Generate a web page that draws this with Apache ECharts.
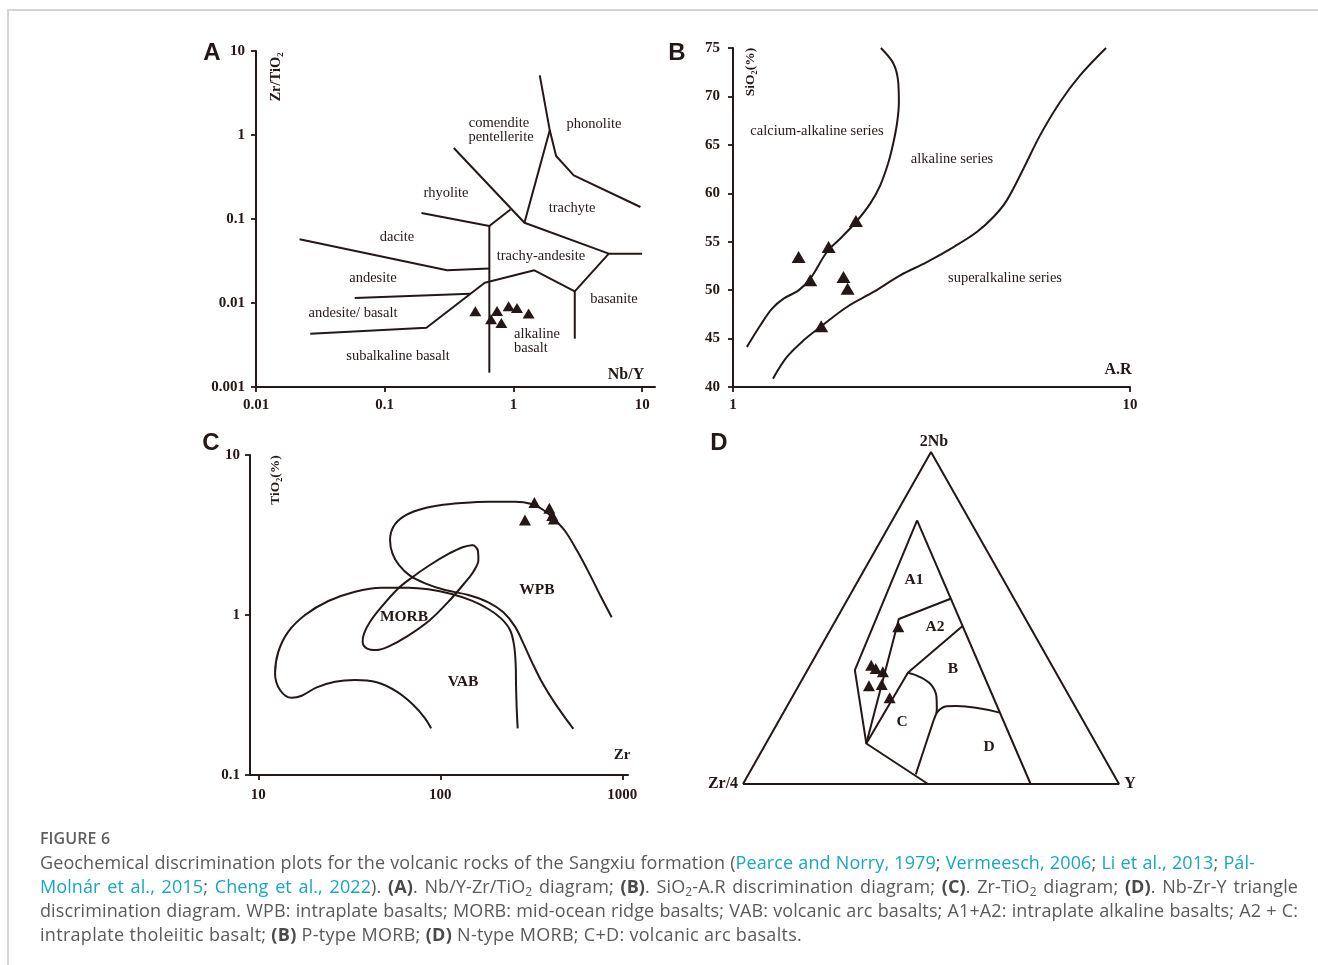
<!DOCTYPE html>
<html>
<head>
<meta charset="utf-8">
<script src="https://cdn.jsdelivr.net/npm/echarts@6/dist/echarts.min.js"></script>
<style>
html,body{margin:0;padding:0;background:#fff;}
#wrap{position:relative;width:1318px;height:965px;overflow:hidden;background:#fff;}
#chart{position:absolute;left:0;top:0;width:1318px;height:820px;}
#frame{position:absolute;left:7px;top:9px;width:1330px;height:980px;border-top:2px solid #d4d4d4;border-left:2px solid #d4d4d4;pointer-events:none;}
#cap{position:absolute;left:40px;top:826px;font-family:"Open Sans",sans-serif;font-size:18px;letter-spacing:0.1px;color:#5a5a5a;line-height:24px;white-space:nowrap;}
#cap .fig{font-size:16px;font-weight:600;color:#5f5f5f;letter-spacing:0.1px;}
#cap .ln{display:block;}
#cap .j{text-align:justify;text-align-last:justify;}
#cap .w{letter-spacing:0.3px;}
#cap a{color:#15a7c5;text-decoration:none;}
#cap b{color:#4a4a4a;font-weight:700;}
#cap sub{font-size:12px;line-height:0;vertical-align:-3px;}
</style>
</head>
<body>
<div id="wrap">
<div id="chart"></div>
<div id="frame"></div>
<div id="cap">
<span class="ln fig">FIGURE 6</span>
<span class="ln j" style="width:1215px">Geochemical discrimination plots for the volcanic rocks of the Sangxiu formation (<a>Pearce and Norry, 1979</a>; <a>Vermeesch, 2006</a>; <a>Li et al., 2013</a>; <a>Pál-</a></span>
<span class="ln j" style="width:1258px"><a>Molnár et al., 2015</a>; <a>Cheng et al., 2022</a>). <b>(A)</b>. Nb/Y-Zr/TiO<sub>2</sub> diagram; <b>(B)</b>. SiO<sub>2</sub>-A.R discrimination diagram; <b>(C)</b>. Zr-TiO<sub>2</sub> diagram; <b>(D)</b>. Nb-Zr-Y triangle</span>
<span class="ln j" style="width:1258px">discrimination diagram. WPB: intraplate basalts; MORB: mid-ocean ridge basalts; VAB: volcanic arc basalts; A1+A2: intraplate alkaline basalts; A2 + C:</span>
<span class="ln w">intraplate tholeiitic basalt; <b>(B)</b> P-type MORB; <b>(D)</b> N-type MORB; C+D: volcanic arc basalts.</span>
</div>
</div>
<script>
// ---------------- Panel A: Nb/Y vs Zr/TiO2 (log-log) ----------------
const aTicksX = [0.01, 0.1, 1, 10];
const aTicksY = [0.001, 0.01, 0.1, 1, 10];
const aRhyolite = [[0.193,0.118],[0.650,0.0826],[0.948,0.130]];
const aComendite = [[0.344,0.700],[1.218,0.0903],[5.51,0.0387],[10,0.0387]];
const aPhonolite = [[1.602,5.13],[1.916,1.137],[2.146,0.562],[2.944,0.331],[9.70,0.139]];
const aTrachyte = [[1.916,1.137],[1.218,0.0903]];
const aVertical = [[0.650,0.0826],[0.650,0.00148]];
const aDacite = [[0.0218,0.0573],[0.305,0.0245],[0.650,0.0257]];
const aAndesite = [[0.0585,0.01148],[0.4634,0.0129]];
const aAlkaline = [[0.0264,0.00431],[0.211,0.00508],[0.599,0.01746],[1.455,0.0245],[2.997,0.01377],[5.51,0.0387]];
const aBasanite = [[2.997,0.01377],[2.997,0.00376]];
const aSamples = [[0.506,0.00796],[0.746,0.00803],[0.918,0.00914],[1.066,0.0087],[1.312,0.00748],[0.670,0.0064],[0.806,0.00578]];

// ---------------- Panel B: A.R (log) vs SiO2 ----------------
const bTicksX = [1, 10];
const bCalcAlkBoundary = [[2.358,75.0],[2.537,73.38],[2.607,71.49],[2.617,69.42],[2.592,67.36],[2.537,65.29],[2.465,63.23],[2.349,60.82],[2.216,58.93],[2.051,57.14],[1.881,55.49],[1.724,53.94],[1.565,51.18],[1.463,49.98],[1.341,49.12],[1.254,48.09],[1.172,46.37],[1.084,44.13]];
const bAlkBoundary = [[1.261,40.86],[1.367,43.10],[1.506,44.82],[1.659,46.19],[1.936,48.26],[2.259,49.81],[2.637,51.53],[3.078,52.90],[3.593,54.45],[4.113,56.00],[4.529,57.55],[4.893,59.27],[5.390,62.54],[5.935,65.98],[6.667,69.42],[7.485,72.17],[8.702,75.0]];
const bSamples = [[1.463,53.42],[1.565,51.01],[1.741,54.45],[2.040,57.14],[1.898,51.36],[1.944,50.15],[1.668,46.26]];

// ---------------- Panel C: Zr vs TiO2 (log-log) ----------------
const cTicksX = [10, 100, 1000];
const cTicksY = [0.1, 1, 10];
const cWPB = [[873.6,0.967],[754,1.334],[650.4,1.866],[561.3,2.548],[484.2,3.35],[417.7,4.02],[368.1,4.53],[317.6,4.94],[257.2,5.11],[183.5,5.11],[131.0,5.01],[97.5,4.83],[75.7,4.53],[62.6,4.12],[55.2,3.565],[52.9,2.943],[54.5,2.429],[59.3,2.053],[68.1,1.762],[82.4,1.577],[106.1,1.433],[142.5,1.334],[183.5,1.200],[221.9,1.039],[257.2,0.846],[285.8,0.665],[317.6,0.511],[360.5,0.383],[426.6,0.2805],[538.1,0.194]];
const cVAB = [[266,0.1957],[262.7,0.261],[260.5,0.365],[259.4,0.487],[254.0,0.649],[241.5,0.806],[215.4,0.953],[183.5,1.090],[148.7,1.229],[115.4,1.353],[85.9,1.447],[66.7,1.482],[47.6,1.482],[33.97,1.399],[24.25,1.223],[18.05,1.0],[14.61,0.787],[12.88,0.590],[12.35,0.432],[13.15,0.340],[15.25,0.304],[17.30,0.313],[20.92,0.353],[26.38,0.383],[33.97,0.3925],[44.7,0.3795],[57.6,0.332],[71.1,0.274],[82.4,0.226],[88.9,0.1957]];
const cMORB = [[151.8,2.738],[160.4,2.548],[161.8,2.207],[151.8,1.866],[137.8,1.616],[113.0,1.241],[87.7,0.931],[65.3,0.732],[51.8,0.634],[44.7,0.604],[39.4,0.619],[37.4,0.681],[38.1,0.768],[41.1,0.908],[47.6,1.127],[58.8,1.468],[69.6,1.711],[85.9,2.024],[110.7,2.406],[133.8,2.661],[151.8,2.738]];
const cSamples = [[328.6,5.04],[397,4.64],[412,4.18],[421,3.98],[291.6,3.92]];

// ---------------- Panel D: ternary 2Nb - Zr/4 - Y  (percent: [2Nb, Zr/4, Y]) ----------------
const dOuter = [[0,100,0],[0,0,100],[100,0,0],[0,100,0]];
const dInnerRight = [[79.4,14.0,6.6],[0,23.5,76.5]];
const dInnerLeft = [[79.4,14.0,6.6],[34.3,53.1,12.6],[12.2,61.1,26.7],[0,50.8,49.2]];
const dA1A2 = [[55.8,16.9,27.3],[49.7,33.7,16.6],[12.2,61.1,26.7]];
const dA2B = [[47.6,17.8,34.6],[33.5,39.4,27.1],[12.2,61.1,26.7]];
const dBC = [[33.5,39.4,27.1],[32.3,36.9,30.8],[29.8,35.0,35.2],[26.3,35.4,38.3],[22.7,37.1,40.2],[21.2,38.0,40.8]];
const dBD = [[21.2,38.0,40.8],[22.4,36.5,41.1],[23.4,34.2,42.4],[23.5,31.5,45.0],[21.5,21.0,57.5]];
const dCD = [[21.2,38.0,40.8],[18.7,40.1,41.2],[2.9,52.6,44.5]];
const dSamples = [[47.4,35.0,17.6],[35.8,48.0,16.2],[34.8,47.3,17.9],[33.8,45.9,20.3],[29.6,51.7,18.7],[30.0,48.1,21.9],[26.0,48.0,26.0]];

// ---------------- helpers ----------------
const INK = '#231815';
const SERIF = 'Liberation Serif';
const L = Math.log10;
const logXY = a => a.map(p => [L(p[0]), L(p[1])]);
const logX = a => a.map(p => [L(p[0]), p[1]]);
const tern = a => a.map(p => [(p[2] + p[0] / 2) / 100, p[0] / 100]);
const powFmt = v => { const p = Math.round(v); if (Math.abs(v - p) > 1e-6) return ''; return p >= 0 ? String(Math.pow(10, p)) : Math.pow(10, p).toFixed(-p); };

function mkAxis(grid, min, max, opt) {
  opt = opt || {};
  const ax = {
    type: 'value', gridIndex: grid, min: min, max: max,
    splitLine: { show: false },
    axisLine: { show: !opt.hidden, onZero: false, lineStyle: { color: INK, width: 2 } },
    axisTick: { show: !opt.hidden, inside: false, length: 5, lineStyle: { color: INK, width: 1.8 } },
    axisLabel: { show: !opt.hidden, color: INK, fontFamily: SERIF, fontWeight: 'bold', fontSize: 15, margin: opt.margin || 12 }
  };
  if (opt.custom) {
    ax.axisTick.customValues = opt.custom;
    ax.axisLabel.customValues = opt.custom;
    ax.axisLabel.formatter = powFmt;
  }
  if (opt.interval) ax.interval = opt.interval;
  return ax;
}
function line(data, i, smooth) {
  return { type: 'line', xAxisIndex: i, yAxisIndex: i, data: data, symbol: 'none', showSymbol: false,
    smooth: smooth || false, lineStyle: { color: INK, width: 2 }, silent: true, z: 2, clip: false, animation: false };
}
function pts(data, i, size) {
  return { type: 'scatter', xAxisIndex: i, yAxisIndex: i, data: data, symbol: 'triangle', symbolSize: size,
    itemStyle: { color: INK, opacity: 1 }, silent: true, z: 5, animation: false };
}
function txt(x, y, s, o) {
  o = o || {};
  const fs = o.size || 14.5;
  const font = (o.bold ? 'bold ' : '') + fs + 'px "' + (o.family || SERIF) + '"';
  return { type: 'text', x: x, y: y, rotation: o.rot || 0, z: 10, silent: true,
    style: { text: s, font: font, fill: INK, textAlign: o.align || 'center', textVerticalAlign: 'middle',
      align: o.align || 'center', verticalAlign: 'middle' } };
}

const chart = echarts.init(document.getElementById('chart'), null, { renderer: 'canvas' });
const option = {
  animation: false,
  backgroundColor: 'transparent',
  grid: [
    { left: 256, top: 51, width: 399, height: 336 },
    { left: 733, top: 48, width: 397, height: 339 },
    { left: 250, top: 455, width: 378, height: 320 },
    { left: 743, top: 452, width: 376, height: 332 }
  ],
  xAxis: [
    mkAxis(0, -2, 1.1, { custom: aTicksX.map(L), margin: 11 }),
    mkAxis(1, 0, 1, { custom: bTicksX.map(L), margin: 11 }),
    mkAxis(2, 0.954, 3.031, { custom: cTicksX.map(L), margin: 13 }),
    mkAxis(3, 0, 1, { hidden: true })
  ],
  yAxis: [
    mkAxis(0, -3, 1, { custom: aTicksY.map(L), margin: 11 }),
    mkAxis(1, 40, 75, { interval: 5, margin: 13 }),
    mkAxis(2, -1, 1, { custom: cTicksY.map(L), margin: 10 }),
    mkAxis(3, 0, 1, { hidden: true })
  ],
  series: [
    line(logXY(aRhyolite), 0), line(logXY(aComendite), 0), line(logXY(aPhonolite), 0),
    line(logXY(aTrachyte), 0), line(logXY(aVertical), 0), line(logXY(aDacite), 0),
    line(logXY(aAndesite), 0), line(logXY(aAlkaline), 0), line(logXY(aBasanite), 0),
    pts(logXY(aSamples), 0, [12, 10]),

    line(logX(bCalcAlkBoundary), 1, 0.35), line(logX(bAlkBoundary), 1, 0.35),
    pts(logX(bSamples), 1, [14, 12]),

    line(logXY(cWPB), 2, 0.35), line(logXY(cVAB), 2, 0.35), line(logXY(cMORB), 2, 0.35),
    pts(logXY(cSamples), 2, [12, 11]),

    line(tern(dOuter), 3), line(tern(dInnerRight), 3), line(tern(dInnerLeft), 3),
    line(tern(dA1A2), 3), line(tern(dA2B), 3), line(tern(dBC), 3, 0.4), line(tern(dBD), 3, 0.4), line(tern(dCD), 3, 0.2),
    pts(tern(dSamples), 3, [12, 11])
  ],
  graphic: { elements: [
    // panel letters
    txt(212, 53, 'A', { family: 'Liberation Sans', bold: true, size: 24 }),
    txt(677, 53, 'B', { family: 'Liberation Sans', bold: true, size: 24 }),
    txt(211, 443, 'C', { family: 'Liberation Sans', bold: true, size: 24 }),
    txt(719, 443, 'D', { family: 'Liberation Sans', bold: true, size: 24 }),
    // panel A
    txt(276, 77, 'Zr/TiO\u2082', { bold: true, size: 14.5, rot: Math.PI / 2 }),
    txt(499, 123, 'comendite'), txt(501, 137, 'pentellerite'),
    txt(594, 124, 'phonolite'), txt(446, 193, 'rhyolite'), txt(572, 208, 'trachyte'),
    txt(397, 237, 'dacite'), txt(541, 256, 'trachy-andesite'), txt(373, 278, 'andesite'),
    txt(614, 299, 'basanite'), txt(353, 313, 'andesite/ basalt'),
    txt(514, 334, 'alkaline', { align: 'left' }), txt(514, 348, 'basalt', { align: 'left' }),
    txt(398, 356, 'subalkaline basalt'),
    txt(626, 375, 'Nb/Y', { bold: true, size: 16 }),
    // panel B
    txt(751, 72, 'SiO\u2082(%)', { bold: true, size: 13.5, rot: Math.PI / 2 }),
    txt(817, 131, 'calcium-alkaline series'), txt(952, 159, 'alkaline series'),
    txt(1005, 278, 'superalkaline series'),
    txt(1118, 370, 'A.R', { bold: true, size: 16 }),
    // panel C
    txt(276, 480, 'TiO\u2082(%)', { bold: true, size: 13.5, rot: Math.PI / 2 }),
    txt(404, 617, 'MORB', { bold: true, size: 15.5 }), txt(537, 590, 'WPB', { bold: true, size: 15.5 }),
    txt(463, 682, 'VAB', { bold: true, size: 15.5 }), txt(622, 755, 'Zr', { bold: true, size: 15 }),
    // panel D
    txt(934, 442, '2Nb', { bold: true, size: 16 }), txt(723, 784, 'Zr/4', { bold: true, size: 16 }),
    txt(1130, 784, 'Y', { bold: true, size: 16 }),
    txt(914, 580, 'A1', { bold: true, size: 15.5 }), txt(935, 627, 'A2', { bold: true, size: 15.5 }),
    txt(953, 669, 'B', { bold: true, size: 15.5 }), txt(902, 722, 'C', { bold: true, size: 15.5 }),
    txt(989, 747, 'D', { bold: true, size: 15.5 })
  ] }
};
chart.setOption(option);
</script>
</body>
</html>
